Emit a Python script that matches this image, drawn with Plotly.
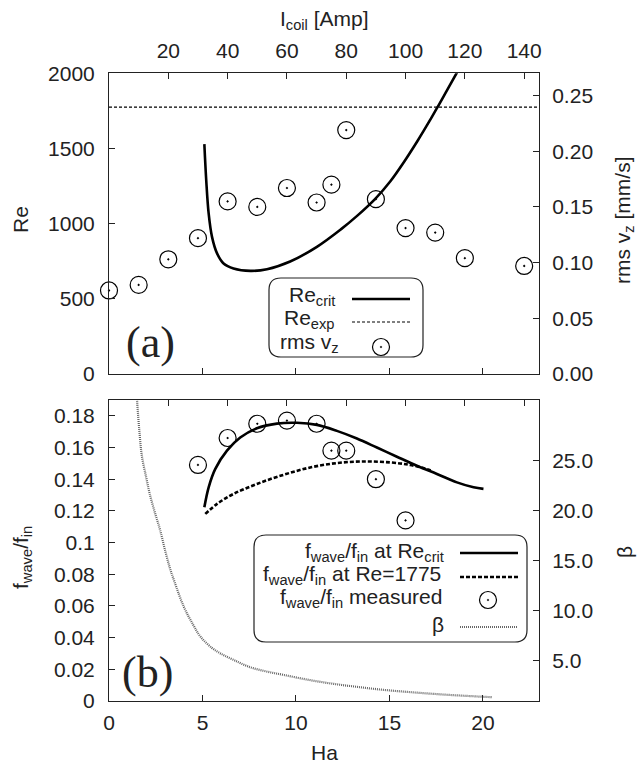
import plotly.graph_objects as go

# ---------------- data ----------------
# panel (a): critical Reynolds number vs Hartmann number
ha_recrit = [5.10, 5.20, 5.33, 5.51, 5.78, 6.13, 6.66, 7.56, 8.45, 9.69, 11.12,
             12.40, 13.30, 14.24, 15.04, 15.75, 16.50, 16.82, 17.54, 18.07, 18.61, 18.90]
re_crit = [1529, 1290, 1068, 912, 802, 735, 702, 686, 697, 748, 846,
           962, 1055, 1165, 1280, 1405, 1550, 1615, 1768, 1885, 2005, 2072]
re_exp = 1775
# measured rms v_z vs coil current
i_coil_a = [0, 10, 20, 30, 40, 50, 60, 70, 75, 80, 90, 100, 110, 120, 140]
rms_vz = [0.075, 0.080, 0.103, 0.122, 0.155, 0.150, 0.167, 0.154, 0.170, 0.219,
          0.157, 0.131, 0.127, 0.104, 0.097]

# panel (b)
ha_fcrit = [5.10, 5.33, 5.68, 6.31, 7.02, 7.91, 8.98, 10.05, 11.12, 12.19, 13.26,
            14.33, 15.40, 16.47, 17.54, 18.61, 19.50, 20.03]
f_crit = [0.1223, 0.1349, 0.1464, 0.1580, 0.1663, 0.1722, 0.1751, 0.1756, 0.1743,
          0.1705, 0.1657, 0.1600, 0.1542, 0.1485, 0.1433, 0.1380, 0.1349, 0.1339]
ha_f1775 = [5.15, 5.78, 6.66, 7.91, 9.34, 10.76, 12.19, 13.61, 15.04, 16.11, 17.0, 17.3]
f_1775 = [0.1181, 0.1244, 0.1307, 0.1370, 0.1428, 0.1474, 0.1502, 0.1512, 0.1506,
          0.1490, 0.1464, 0.1452]
i_coil_b = [30, 40, 50, 60, 70, 75, 80, 90, 100]
f_meas = [0.149, 0.166, 0.175, 0.177, 0.175, 0.158, 0.158, 0.140, 0.114]
ha_beta = [1.45, 1.50, 1.62, 1.76, 2.0, 2.21, 2.5, 2.74, 3.0, 3.25, 3.5, 4.0, 4.5, 4.9,
           5.5, 6.0, 6.66, 7.5, 8.4, 9.34, 10.7, 12.0, 13.3, 14.68, 16.0, 17.36, 19.0, 20.48]
beta = [32.5, 31.0, 28.0, 25.4, 23.2, 21.4, 19.5, 18.0, 16.0, 14.3, 12.9, 10.4, 8.6, 7.4,
        6.3, 5.7, 5.1, 4.4, 3.95, 3.6, 3.1, 2.71, 2.4, 2.11, 1.9, 1.71, 1.52, 1.38]

# axes / ticks
ha_range = [0, 23]
icoil_range = [0, 145]
re_range = [0, 2000]
vz_range = [0, 0.27]
f_range = [0, 0.19]
beta_range = [1, 31]
ha_ticks = [0, 5, 10, 15, 20]
icoil_ticks = [20, 40, 60, 80, 100, 120, 140]
re_ticks = [0, 500, 1000, 1500, 2000]
vz_ticks = [0.0, 0.05, 0.10, 0.15, 0.20, 0.25]
vz_labels = ["0.00", "0.05", "0.10", "0.15", "0.20", "0.25"]
f_ticks = [0, 0.02, 0.04, 0.06, 0.08, 0.10, 0.12, 0.14, 0.16, 0.18]
f_labels = ["0", "0.02", "0.04", "0.06", "0.08", "0.1", "0.12", "0.14", "0.16", "0.18"]
beta_ticks = [5, 10, 15, 20, 25]
beta_labels = ["5.0", "10.0", "15.0", "20.0", "25.0"]

# ---------------- layout helpers ----------------
W, H = 637, 767
FONT = "Liberation Sans, Arial, Helvetica, sans-serif"
FS = 21
AXC = "#222222"


def px(x):
    return x / W


def py(y):
    return 1 - y / H


L, R = 109, 539
TOP_A, BOT_A = 73.3, 374
TOP_B, BOT_B = 400, 701

fig = go.Figure()

# panel (a)
fig.add_trace(go.Scatter(x=ha_recrit, y=re_crit, mode="lines", xaxis="x", yaxis="y",
                         line=dict(color="black", width=2.6, shape="spline", smoothing=1.0),
                         showlegend=False))
fig.add_trace(go.Scatter(x=ha_range, y=[re_exp, re_exp], mode="lines", xaxis="x", yaxis="y",
                         line=dict(color="black", width=1.2, dash="3px,2px"), showlegend=False))
fig.add_trace(go.Scatter(x=i_coil_a, y=rms_vz, mode="markers", xaxis="x2", yaxis="y2",
                         marker=dict(symbol="circle-open-dot", size=17, color="black",
                                     line=dict(width=1.2, color="black")),
                         cliponaxis=False, showlegend=False))

# panel (b)
fig.add_trace(go.Scatter(x=ha_beta, y=beta, mode="lines", xaxis="x3", yaxis="y4",
                         line=dict(color="#666666", width=2.2, dash="1px,1px", shape="spline"),
                         showlegend=False))
fig.add_trace(go.Scatter(x=ha_fcrit, y=f_crit, mode="lines", xaxis="x3", yaxis="y3",
                         line=dict(color="black", width=2.6, shape="spline"), showlegend=False))
fig.add_trace(go.Scatter(x=ha_f1775, y=f_1775, mode="lines", xaxis="x3", yaxis="y3",
                         line=dict(color="black", width=2.6, dash="4px,2px", shape="spline"),
                         showlegend=False))
fig.add_trace(go.Scatter(x=i_coil_b, y=f_meas, mode="markers", xaxis="x4", yaxis="y3",
                         marker=dict(symbol="circle-open-dot", size=17, color="black",
                                     line=dict(width=1.2, color="black")),
                         cliponaxis=False, showlegend=False))

dom_x = [px(L), px(R)]
dom_a = [py(BOT_A), py(TOP_A)]
dom_b = [py(BOT_B), py(TOP_B)]

common = dict(showgrid=False, zeroline=False, showline=True, linecolor=AXC, linewidth=1,
              ticks="inside", ticklen=6, tickcolor=AXC, tickwidth=1, automargin=False,
              tickfont=dict(family=FONT, size=FS, color="#222"))

fig.update_layout(
    width=W, height=H, margin=dict(l=0, r=0, t=0, b=0),
    paper_bgcolor="white", plot_bgcolor="white",
    xaxis=dict(domain=dom_x, range=ha_range, anchor="y", side="bottom",
               tickmode="array", tickvals=ha_ticks, showticklabels=False, **common),
    xaxis2=dict(range=icoil_range, overlaying="x", anchor="y", side="top",
                tickmode="array", tickvals=icoil_ticks, ticklabelstandoff=6, **common),
    yaxis=dict(domain=dom_a, range=re_range, anchor="x", side="left",
               tickmode="array", tickvals=re_ticks, ticklabelstandoff=9, **common),
    yaxis2=dict(range=vz_range, overlaying="y", anchor="x", side="right",
                tickmode="array", tickvals=vz_ticks, ticktext=vz_labels,
                ticklabelstandoff=8, **common),
    xaxis3=dict(domain=dom_x, range=ha_range, anchor="y3", side="bottom",
                tickmode="array", tickvals=ha_ticks, ticklabelstandoff=3, **common),
    xaxis4=dict(range=icoil_range, overlaying="x3", anchor="y3", side="top",
                tickmode="array", tickvals=icoil_ticks, showticklabels=False, **common),
    yaxis3=dict(domain=dom_b, range=f_range, anchor="x3", side="left",
                tickmode="array", tickvals=f_ticks, ticktext=f_labels,
                ticklabelstandoff=9, **common),
    yaxis4=dict(range=beta_range, overlaying="y3", anchor="x3", side="right",
                tickmode="array", tickvals=beta_ticks, ticktext=beta_labels,
                ticklabelstandoff=8, **common),
)

ann = []


def text(x, y, s, size=FS, xanchor="center", yanchor="middle", angle=0, family=FONT):
    ann.append(dict(x=px(x), y=py(y), xref="paper", yref="paper", text=s, showarrow=False,
                    xanchor=xanchor, yanchor=yanchor, textangle=angle,
                    font=dict(family=family, size=size, color="#222")))


# axis titles
text(324, 20, "I<sub>coil</sub> [Amp]")
text(20, 220, "Re", angle=-90)
text(624, 220, "rms v<sub>z</sub> [mm/s]", angle=-90)
text(22, 558, "f<sub>wave</sub>/f<sub>in</sub>", angle=-90)
text(624, 552, "β", angle=-90)
text(324, 752, "Ha")
text(150, 342, "(a)", size=44, family="Liberation Serif, Times New Roman, serif")
text(147, 672, "(b)", size=44, family="Liberation Serif, Times New Roman, serif")

shapes = []


def rbox(x0, y0, x1, y1, r=12):
    p = (f"M {px(x0 + r)},{py(y0)} L {px(x1 - r)},{py(y0)} Q {px(x1)},{py(y0)} {px(x1)},{py(y0 + r)} "
         f"L {px(x1)},{py(y1 - r)} Q {px(x1)},{py(y1)} {px(x1 - r)},{py(y1)} "
         f"L {px(x0 + r)},{py(y1)} Q {px(x0)},{py(y1)} {px(x0)},{py(y1 - r)} "
         f"L {px(x0)},{py(y0 + r)} Q {px(x0)},{py(y0)} {px(x0 + r)},{py(y0)} Z")
    shapes.append(dict(type="path", path=p, xref="paper", yref="paper",
                       line=dict(color=AXC, width=1.2), fillcolor="rgba(0,0,0,0)"))


def hline(x0, x1, y, width, dash="solid", color="black"):
    shapes.append(dict(type="line", xref="paper", yref="paper", x0=px(x0), x1=px(x1),
                       y0=py(y), y1=py(y), line=dict(color=color, width=width, dash=dash)))


def circ(cx, cy, r=8.5):
    shapes.append(dict(type="circle", xref="paper", yref="paper", x0=px(cx - r), x1=px(cx + r),
                       y0=py(cy + r), y1=py(cy - r), line=dict(color="black", width=1.2)))
    shapes.append(dict(type="circle", xref="paper", yref="paper", x0=px(cx - 0.8), x1=px(cx + 0.8),
                       y0=py(cy + 0.8), y1=py(cy - 0.8), fillcolor="black",
                       line=dict(color="black", width=0.5)))


# legend (a)
rbox(269, 278, 423, 357)
text(337, 296, "Re<sub>crit</sub>", xanchor="right")
hline(352, 410, 299, 2.6)
text(337, 319, "Re<sub>exp</sub>", xanchor="right")
hline(352, 410, 322, 1.2, "3px,2px")
text(341, 343, "rms v<sub>z</sub>", xanchor="right")
circ(381, 347)

# legend (b)
LFS = 21
rbox(254, 535, 527, 642)
text(446, 552, "f<sub>wave</sub>/f<sub>in</sub> at Re<sub>crit</sub>", size=LFS, xanchor="right")
hline(460, 518, 553, 2.6)
text(443, 575, "f<sub>wave</sub>/f<sub>in</sub> at Re=1775", size=LFS, xanchor="right")
hline(460, 518, 577, 2.6, "4px,2px")
text(444, 598, "f<sub>wave</sub>/f<sub>in</sub> measured", size=LFS, xanchor="right")
circ(488, 600)
text(446, 624, "β", size=LFS, xanchor="right")
hline(460, 518, 627, 2.2, "1px,1px", "#666666")

fig.update_layout(annotations=ann, shapes=shapes)

fig.write_html("out.html", config={"displayModeBar": False},
               post_script="document.body.style.margin='0';document.body.style.overflow='hidden';")
